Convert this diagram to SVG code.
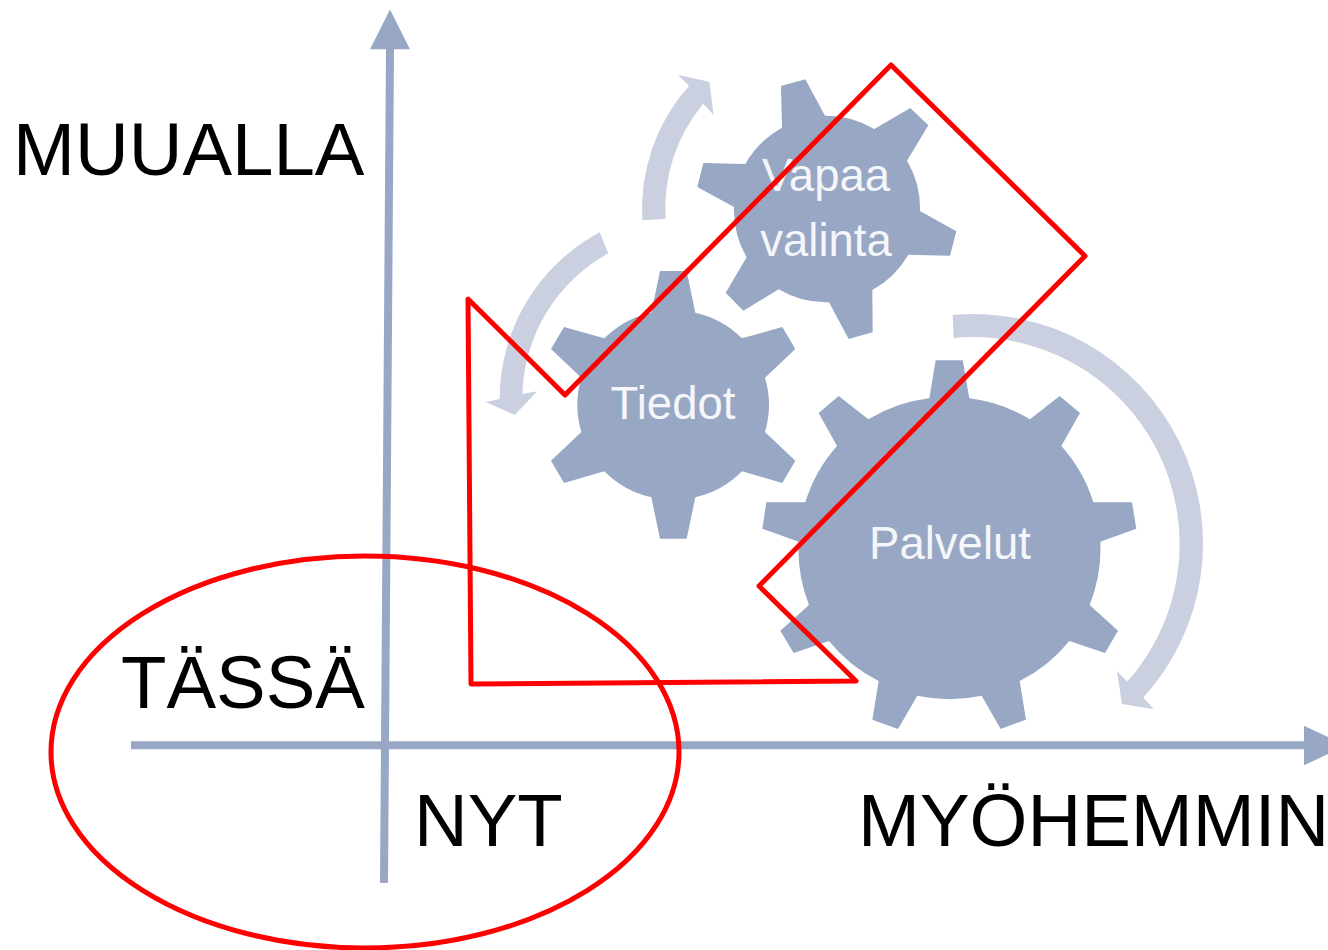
<svg xmlns="http://www.w3.org/2000/svg" width="1328" height="950" viewBox="0 0 1328 950">
<style>
text{font-family:"Liberation Sans",Arial,sans-serif}
.big{font-size:74.4px;fill:#000}
.lab{font-size:45.5px;fill:#f4f6fa;text-anchor:middle}
.gear{fill:#98a7c4}
.turn{fill:#cad0df}
.red{fill:none;stroke:#ff0000;stroke-width:5;stroke-linejoin:round}
.axis{fill:none;stroke:#98a7c4;stroke-width:8}
.head{fill:#98a7c4}
</style>
<rect width="1328" height="950" fill="#fff"/>
<g id="turn-top"><path class="turn" transform="translate(640 50) scale(.33333)" d="M7 511A555 555 0 0 1 147 108L115 75L208 95L221 195L190 161A487 487 0 0 0 77 506Z"/></g>
<g id="turn-left"><path class="turn" transform="translate(480 220) scale(.33333)" d="M359 37A567 567 0 0 0 59 537L17 546L104 585L172 514L127 522A499 499 0 0 1 385 100Z"/></g>
<g id="turn-right"><path class="turn" transform="translate(750 310) scale(.33333)" d="M608 15A688 688 0 0 1 1180 1163L1212 1198L1116 1182L1101 1083L1132 1115A621 621 0 0 0 611 84Z"/></g>
<g id="gear-vapaa">
<path class="gear" transform="translate(640 50) scale(.33333)" d="M426 233L423 108L496 88L555 197A280 280 0 0 1 703 237L811 174L865 226L801 332A280 280 0 0 1 840 483L949 544L930 617L805 614A280 280 0 0 1 697 720L698 847L626 867L567 757A280 280 0 0 1 416 718L310 782L257 728L320 622A280 280 0 0 1 282 471L172 411L190 339L316 342A280 280 0 0 1 426 233Z"/>
<text class="lab" x="826" y="191">Vapaa</text>
<text class="lab" x="826" y="256">valinta</text>
</g>
<g id="gear-tiedot">
<path class="gear" transform="translate(480 220) scale(.33333)" d="M514 278L540 153L620 153L646 278A285 285 0 0 1 786 355L907 321L946 387L855 473A285 285 0 0 1 855 636L946 722L907 789L786 754A285 285 0 0 1 646 832L620 956L540 956L514 832A285 285 0 0 1 373 754L252 789L213 722L304 636A285 285 0 0 1 304 473L213 387L252 321L373 355A285 285 0 0 1 514 278Z"/>
<text class="lab" x="673" y="419">Tiedot</text>
</g>
<g id="gear-palvelut">
<path class="gear" transform="translate(750 310) scale(.33333)" d="M538 265L557 151L638 151L658 265A452 452 0 0 1 840 328L929 258L990 309L934 408A452 452 0 0 1 1030 577L1146 577L1159 656L1051 695A452 452 0 0 1 1019 885L1104 962L1065 1029L958 993A452 452 0 0 1 809 1113L828 1229L752 1257L695 1157A452 452 0 0 1 502 1157L444 1257L367 1229L386 1113A452 452 0 0 1 237 993L131 1029L91 962L177 885A452 452 0 0 1 146 695L37 656L49 577L166 577A452 452 0 0 1 261 408L206 309L266 258L355 328A452 452 0 0 1 538 265Z"/>
<text class="lab" x="950" y="559">Palvelut</text>
</g>
<g id="connectors">
<path class="axis" d="M384 883L390 48"/>
<polygon class="head" points="390,9.500 410,49.300 370,49.300"/>
<path class="axis" d="M131 745.300H1305"/>
<polygon class="head" points="1346,745.500 1304,725.700 1304,765.300"/>
</g>
<g id="labels">
<text class="big" x="13" y="175">MUUALLA</text>
<text class="big" x="121" y="708">TÄSSÄ</text>
<text class="big" x="414" y="846">NYT</text>
<text class="big" x="858" y="846">MYÖHEMMIN</text>
</g>
<g id="red-shapes">
<path class="red" d="M468 299L565 395L891 65L1085 256L759 586L856 681L471 684Z"/>
<ellipse class="red" cx="365" cy="752" rx="314" ry="196"/>
</g>
</svg>
